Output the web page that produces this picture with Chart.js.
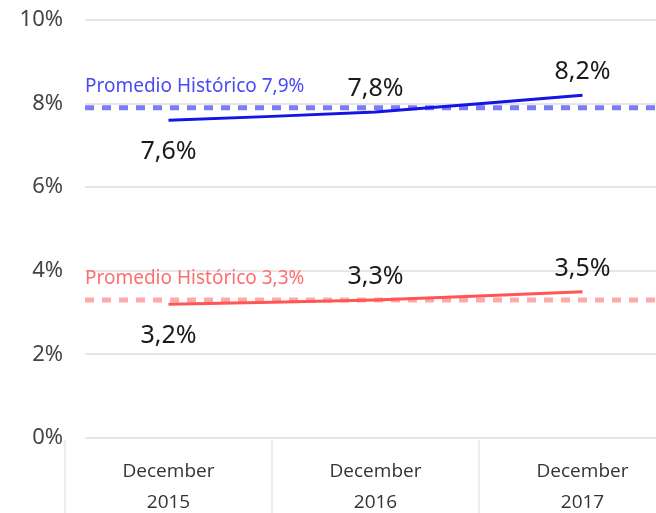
<!DOCTYPE html>
<html>
<head>
<meta charset="utf-8">
<script src="https://cdn.jsdelivr.net/npm/chart.js@4.4.1/dist/chart.umd.min.js"></script>
<style>
  html, body { margin: 0; padding: 0; background: #fff; }
  #wrap { width: 656px; height: 513px; overflow: hidden; position: relative; }
  #box { width: 686px; height: 513px; }
</style>
</head>
<body>
<div id="wrap"><div id="box"><canvas id="tasas"></canvas></div></div>
<script>
// data
var periodos = [["December", "2015"], ["December", "2016"], ["December", "2017"]];
var serieAzul = [7.6, 7.8, 8.2];
var serieRoja = [3.2, 3.3, 3.5];
var promedioAzul = 7.9;
var promedioRoja = 3.3;
// label placement: -1 below the point, 1 above
var posAzul = [-1, 1, 1];
var posRoja = [-1, 1, 1];

function pct(v) {
    return v.toFixed(1).replace('.', ',') + '%';
}

// gridlines, separators, averages and value labels
var extras = {
    id: 'extras',
    beforeDatasetsDraw: function(chart) {
        var c = chart.ctx, a = chart.chartArea;
        var y = chart.scales.y, x = chart.scales.x;
        var gx = a.left + 20;
        c.save();
        // horizontal grid
        c.strokeStyle = '#e6e6e6';
        c.lineWidth = 2;
        y.ticks.forEach(function(t) {
            var py = Math.round(y.getPixelForValue(t.value));
            c.beginPath();
            c.moveTo(gx, py);
            c.lineTo(a.right, py);
            c.stroke();
        });
        // separators under axis
        var half = (x.getPixelForValue(1) - x.getPixelForValue(0)) / 2;
        c.lineWidth = 2;
        c.strokeStyle = '#ececec';
        for (var i = 0; i < periodos.length; i++) {
            var sx = Math.round(x.getPixelForValue(i) - half);
            c.beginPath();
            c.moveTo(sx, a.bottom + 2);
            c.lineTo(sx, chart.height);
            c.stroke();
        }
        // historical averages
        [[promedioAzul, 'rgba(110,110,245,0.9)', '#4a4af2'],
         [promedioRoja, 'rgba(255,160,160,0.9)', '#ff6e6e']].forEach(function(p) {
            var py = y.getPixelForValue(p[0]);
            c.setLineDash([9, 8]);
            c.lineWidth = 5;
            c.strokeStyle = p[1];
            c.beginPath();
            c.moveTo(gx, py);
            c.lineTo(a.right, py);
            c.stroke();
            c.setLineDash([]);
            c.fillStyle = p[2];
            c.font = '19px "Noto Sans"';
            c.textAlign = 'left';
            c.textBaseline = 'middle';
            c.fillText('Promedio Histórico ' + pct(p[0]), gx, py - 21);
        });
        c.restore();
    },
    afterDatasetsDraw: function(chart) {
        var c = chart.ctx;
        c.save();
        c.fillStyle = '#1a1a1a';
        c.font = '25px "Noto Sans"';
        c.textAlign = 'center';
        c.textBaseline = 'middle';
        [[0, serieAzul, posAzul], [1, serieRoja, posRoja]].forEach(function(s) {
            var meta = chart.getDatasetMeta(s[0]);
            meta.data.forEach(function(pt, i) {
                var dy = s[2][i] < 0 ? 32 : -23;
                c.fillText(pct(s[1][i]), pt.x, pt.y + dy);
            });
        });
        c.restore();
    }
};

var ctx = document.getElementById('tasas');

var chartData = {
    labels: periodos,
    datasets: [{
        label: 'Azul',
        data: serieAzul,
        borderColor: '#1414e6',
        borderWidth: 3,
        pointRadius: 0,
        tension: 0.15
    }, {
        label: 'Roja',
        data: serieRoja,
        borderColor: '#ff5555',
        borderWidth: 3,
        pointRadius: 0,
        tension: 0.15
    }]
};

var chartOptions = {
    responsive: true,
    maintainAspectRatio: false,
    animation: false,
    layout: { padding: { top: 20, right: 0, left: 0, bottom: 0 } },
    plugins: {
        legend: { display: false },
        tooltip: { enabled: false }
    },
    scales: {
        x: {
            offset: true,
            grid: { display: false, drawTicks: false },
            border: { display: false },
            ticks: {
                color: '#333',
                padding: 18,
                font: { family: 'Open Sans', size: 19, lineHeight: 1.65 },
                maxRotation: 0
            },
            afterFit: function(s) { s.height = 75; }
        },
        y: {
            min: 0,
            max: 10,
            grid: { display: false, drawTicks: false },
            border: { display: false },
            ticks: {
                stepSize: 2,
                color: '#444',
                padding: 2,
                font: { family: 'Noto Sans', size: 22 },
                callback: function(v) { return v + '%'; }
            },
            afterFit: function(s) { s.width = 65; }
        }
    }
};

var config = {
    type: 'line',
    data: chartData,
    options: chartOptions,
    plugins: [extras]
};

var graficoTasas = new Chart(ctx, config);
</script>
</body>
</html>
